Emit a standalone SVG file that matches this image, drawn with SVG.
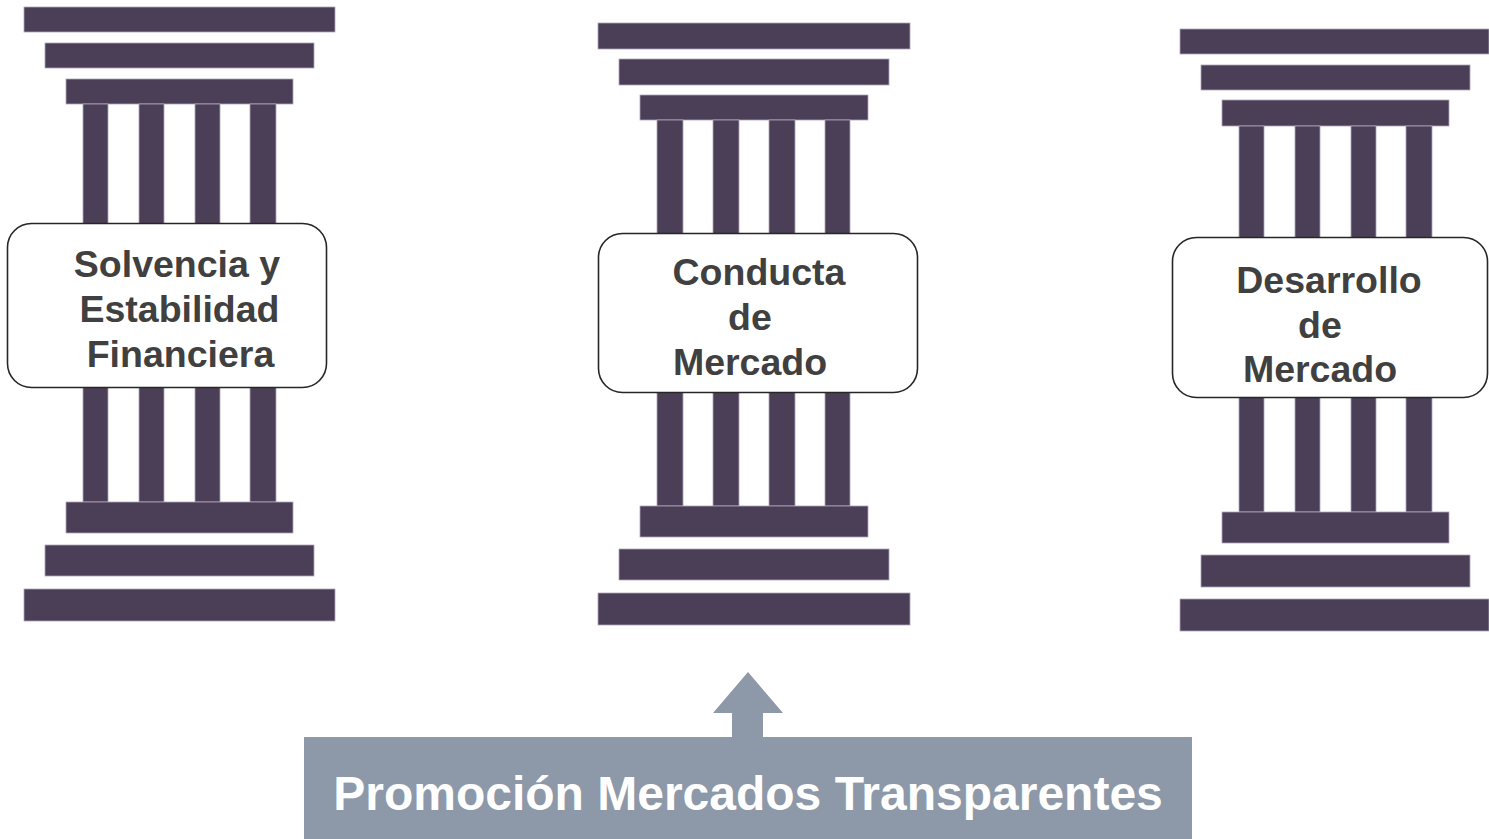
<svg xmlns="http://www.w3.org/2000/svg" width="1489" height="839" viewBox="0 0 1489 839">
<style>
.bar{fill:#4b3f57;stroke:#b0a6bb;stroke-width:0.8}
.lbl{fill:#ffffff;stroke:#262626;stroke-width:1.6}
.t{font-family:"Liberation Sans",Arial,sans-serif;font-weight:bold;font-size:37.5px;fill:#404040;text-anchor:middle}
.bt{font-family:"Liberation Sans",Arial,sans-serif;font-weight:bold;font-size:48px;fill:#ffffff;text-anchor:middle}
</style>
<rect width="1489" height="839" fill="#ffffff"/>
<g id="pillar-solvencia">
<rect class="bar" x="24" y="7" width="311" height="25"/>
<rect class="bar" x="45" y="43" width="269" height="25"/>
<rect class="bar" x="66" y="79" width="227" height="25"/>
<rect class="bar" x="83" y="104" width="25" height="398"/>
<rect class="bar" x="139" y="104" width="25" height="398"/>
<rect class="bar" x="195" y="104" width="25" height="398"/>
<rect class="bar" x="250" y="104" width="26" height="398"/>
<rect class="bar" x="66" y="502" width="227" height="31"/>
<rect class="bar" x="45" y="545" width="269" height="31"/>
<rect class="bar" x="24" y="589" width="311" height="32"/>
<rect class="lbl" x="7.5" y="223.5" width="319" height="164" rx="24"/>
<text class="t" x="177" y="277">Solvencia y</text>
<text class="t" x="179.5" y="322">Estabilidad</text>
<text class="t" x="180.5" y="367">Financiera</text>
</g>
<g id="pillar-conducta">
<rect class="bar" x="598" y="23" width="312" height="26"/>
<rect class="bar" x="619" y="59" width="270" height="26"/>
<rect class="bar" x="640" y="95" width="228" height="25"/>
<rect class="bar" x="657" y="120" width="26" height="386"/>
<rect class="bar" x="713" y="120" width="26" height="386"/>
<rect class="bar" x="769" y="120" width="26" height="386"/>
<rect class="bar" x="825" y="120" width="25" height="386"/>
<rect class="bar" x="640" y="506" width="228" height="31"/>
<rect class="bar" x="619" y="549" width="270" height="31"/>
<rect class="bar" x="598" y="593" width="312" height="32"/>
<rect class="lbl" x="598.5" y="233.5" width="319" height="159" rx="24"/>
<text class="t" x="759" y="285">Conducta</text>
<text class="t" x="750" y="330">de</text>
<text class="t" x="750" y="375">Mercado</text>
</g>
<g id="pillar-desarrollo">
<rect class="bar" x="1180" y="29" width="309" height="25"/>
<rect class="bar" x="1201" y="65" width="269" height="25"/>
<rect class="bar" x="1222" y="100" width="227" height="26"/>
<rect class="bar" x="1239" y="126" width="25" height="386"/>
<rect class="bar" x="1295" y="126" width="25" height="386"/>
<rect class="bar" x="1351" y="126" width="25" height="386"/>
<rect class="bar" x="1406" y="126" width="26" height="386"/>
<rect class="bar" x="1222" y="512" width="227" height="31"/>
<rect class="bar" x="1201" y="555" width="269" height="32"/>
<rect class="bar" x="1180" y="599" width="309" height="32"/>
<rect class="lbl" x="1172.5" y="237.5" width="315" height="160" rx="24"/>
<text class="t" x="1329" y="293">Desarrollo</text>
<text class="t" x="1320" y="338">de</text>
<text class="t" x="1320" y="382">Mercado</text>
</g>
<g id="connectors">
<polygon points="748,672 783,713 763,713 763,738 732,738 732,713 713,713" fill="#8d99a9"/>
</g>
<g id="node-promocion">
<rect x="304" y="737" width="888" height="102" fill="#8d99a9"/>
<text class="bt" x="748" y="810">Promoción Mercados Transparentes</text>
</g>
</svg>
